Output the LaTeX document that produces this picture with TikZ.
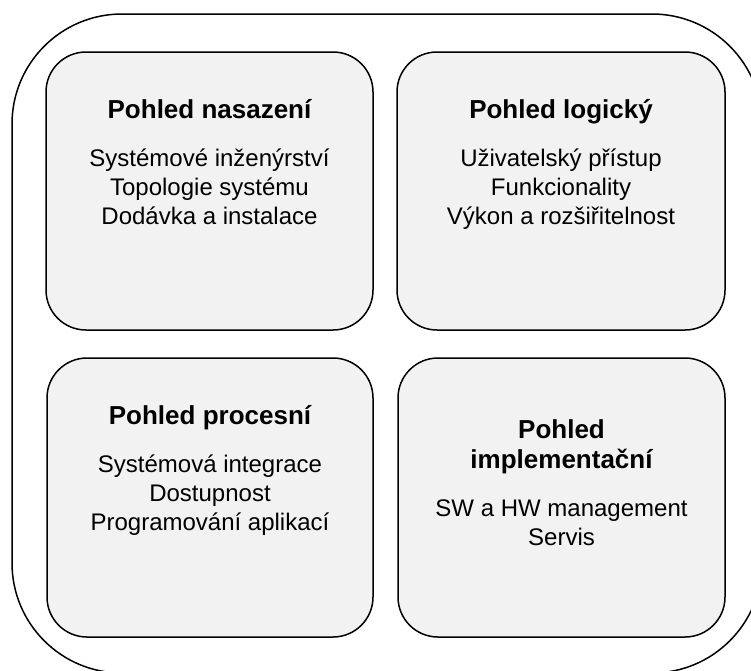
\documentclass[tikz,border=0pt]{standalone}
\usepackage{fontspec}
\setmainfont{Liberation Sans}
\definecolor{boxfill}{HTML}{F2F2F2}
\tikzset{
  viewbox/.style={draw=black, line width=1.5pt, fill=boxfill, rounded corners=40pt, inner sep=0pt, outer sep=0pt},
  titletext/.style={anchor=base, inner sep=0pt, font=\fontsize{26}{30}\selectfont\bfseries},
  bodytext/.style={anchor=base, inner sep=0pt, font=\fontsize{24}{29}\selectfont},
}
\begin{document}
\begin{tikzpicture}[x=1pt,y=-1pt]
\useasboundingbox (0,0) rectangle (751,670);
\begin{scope}
\clip (0,0) rectangle (751,670);
\draw[line width=1.5pt, rounded corners=110pt] (12,14) rectangle (762,673);
\end{scope}
% boxes
\node[viewbox, minimum width=327pt, minimum height=278pt] (b1) at (209.5,191) {};
\node[viewbox, minimum width=328pt, minimum height=278pt] (b2) at (561,191) {};
\node[viewbox, minimum width=326pt, minimum height=279pt] (b3) at (210,497.5) {};
\node[viewbox, minimum width=327pt, minimum height=279pt] (b4) at (561.5,497.5) {};
% box 1
\node[titletext] (t1) at (209.5,118) {Pohled nasazení};
\node[bodytext] (b1l1) at (209.5,166) {Systémové inženýrství};
\node[bodytext] (b1l2) at (209.5,195) {Topologie systému};
\node[bodytext] (b1l3) at (209.5,224) {Dodávka a instalace};
% box 2
\node[titletext] (t2) at (561,118) {Pohled logický};
\node[bodytext] (b2l1) at (561,166) {Uživatelský přístup};
\node[bodytext] (b2l2) at (561,195) {Funkcionality};
\node[bodytext] (b2l3) at (561,224) {Výkon a rozšiřitelnost};
% box 3
\node[titletext] (t3) at (210,424) {Pohled procesní};
\node[bodytext] (b3l1) at (210,472) {Systémová integrace};
\node[bodytext] (b3l2) at (210,501) {Dostupnost};
\node[bodytext] (b3l3) at (210,530) {Programování aplikací};
% box 4
\node[titletext] (t4a) at (561.5,438) {Pohled};
\node[titletext] (t4b) at (561.5,468) {implementační};
\node[bodytext] (b4l1) at (561.5,516) {SW a HW management};
\node[bodytext] (b4l2) at (561.5,545) {Servis};
\end{tikzpicture}
\end{document}
